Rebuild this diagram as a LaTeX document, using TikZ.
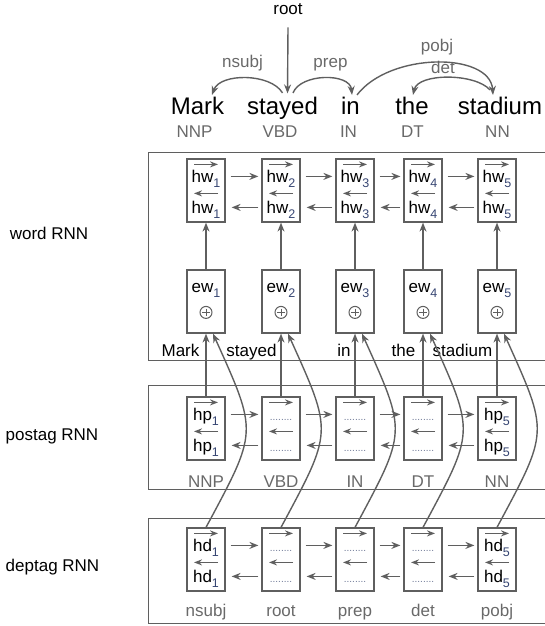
\documentclass[tikz,border=0pt]{standalone}
\usepackage{fontspec}
\setmainfont{Liberation Sans}
\usepackage{xcolor}
\usetikzlibrary{arrows.meta, calc}
\definecolor{linegray}{RGB}{95,95,95}
\definecolor{taggray}{RGB}{105,105,105}
\definecolor{dotblue}{RGB}{110,120,150}
\definecolor{subblue}{RGB}{55,70,115}
\tikzset{
  cell/.style  ={rectangle, draw=linegray, line width=1.2pt, fill=white,
                 minimum width=38pt, minimum height=63pt, inner sep=0pt},
  panel/.style ={rectangle, draw=linegray, line width=1.3pt, anchor=north west, inner sep=0pt},
  txt/.style   ={font=\fontsize{17}{20}\selectfont, inner sep=0pt, anchor=base},
  wordtxt/.style={font=\fontsize{24}{28}\selectfont, inner sep=0pt, anchor=base},
  tagtxt/.style={txt, text=taggray},
  ar/.style    ={-{Stealth[length=9pt,width=7pt]}, draw=linegray, line width=1.4pt},
  vec/.style   ={ar, -{Stealth[length=8pt,width=6pt]}},
  oplus/.style ={circle, draw=linegray, line width=1pt, minimum size=12pt, inner sep=0pt,
                 path picture={\draw[linegray, line width=1pt]
                   ($(path picture bounding box.center)+(0,-3.8)$) -- ($(path picture bounding box.center)+(0,3.8)$)
                   ($(path picture bounding box.center)+(-3.8,0)$) -- ($(path picture bounding box.center)+(3.8,0)$);}},
}
\newcommand{\rowdots}{{\fontsize{10}{12}\selectfont\color{dotblue}........}}
\newcommand{\idx}[1]{\raisebox{-5pt}{\fontsize{12.5}{14}\selectfont\color{subblue}#1}}
% one bidirectional cell: name, x, y, upper text, lower text
\newcommand{\rnncell}[5]{%
  \node[cell] (#1) at (#2,#3) {};
  \draw[vec] ($(#1.north)+(-12,6)$) -- ($(#1.north)+(12,6)$);
  \node[txt] (#1u) at ($(#1.north)+(0,24)$) {#4};
  \draw[vec] ($(#1.north)+(12,35)$) -- ($(#1.north)+(-12,35)$);
  \node[txt] (#1l) at ($(#1.north)+(0,55)$) {#5};
}

\begin{document}
\begin{tikzpicture}[x=1pt, y=-1pt]
\useasboundingbox (0,0) rectangle (545,626);

% dependency parse on top
\node[txt] (root) at (288,15) {root};
\node[wordtxt] (w1) at (197.5,114) {Mark};
\node[wordtxt] (w2) at (282.5,114) {stayed};
\node[wordtxt] (w3) at (350.5,114) {in};
\node[wordtxt] (w4) at (412,114) {the};
\node[wordtxt] (w5) at (500,114) {stadium};
\node[tagtxt] (t1) at (194.5,137) {NNP};
\node[tagtxt] (t2) at (280,137) {VBD};
\node[tagtxt] (t3) at (348.5,137) {IN};
\node[tagtxt] (t4) at (412.5,137) {DT};
\node[tagtxt] (t5) at (497.5,137) {NN};
\node[tagtxt] (lnsubj) at (242.5,67) {nsubj};
\node[tagtxt] (lprep) at (330.5,67) {prep};
\node[tagtxt] (lpobj) at (437,52) {pobj};
\node[tagtxt] (ldet) at (443,74) {det};

\draw[ar] ($(root.south)+(0,12)$) -- ($(w2.north)+(5,-3)$);
\draw[ar] ($(w2.north)+(0,-3.5)$) .. controls +(-12,-20) and +(8,-22) .. ($(w1.north)+(14.5,-1.5)$);
\draw[ar] ($(w2.north)+(10.5,-3.5)$) .. controls +(8,-20) and +(-2,-22) .. ($(w3.north)+(1.5,-1.5)$);
\draw[ar] ($(w3.north)+(6.5,-1.5)$) .. controls +(33,-43) and +(-3,-43) .. ($(w5.north)+(-7,-1.5)$);
\draw[ar] ($(w5.north)+(-10,-6.5)$) .. controls +(-15,-17) and +(5,-22) .. ($(w4.north)+(1,-1.5)$);

% panels
\node[panel, minimum width=452pt, minimum height=208pt] (wordpanel) at (148,152) {};
\node[panel, minimum width=452pt, minimum height=104pt] (pospanel) at (148,385) {};
\node[panel, minimum width=452pt, minimum height=105pt] (deppanel) at (148,518) {};
\node[txt] (lword) at (49,239) {word RNN};
\node[txt] (lpos) at (52,440) {postag RNN};
\node[txt] (ldep) at (52.5,571) {deptag RNN};

% words and tags inside panels
\node[txt] (wt1) at (180.5,356) {Mark};
\node[txt] (wt2) at (251.5,356) {stayed};
\node[txt] (wt3) at (344,356) {in};
\node[txt] (wt4) at (403.5,356) {the};
\node[txt] (wt5) at (462.5,356) {stadium};
\foreach \i/\x/\p/\d in {1/206/NNP/nsubj, 2/281/VBD/root, 3/355/IN/prep, 4/423/DT/det, 5/497/NN/pobj} {
  \node[tagtxt] (pt\i) at (\x,487) {\p};
  \node[tagtxt] (dt\i) at (\x,616) {\d};
}

% cells
\foreach \i/\x in {1/206, 2/281, 3/355, 4/423, 5/497} {
  \rnncell{hw\i}{\x}{190.5}{hw\idx{\i}}{hw\idx{\i}}
  \node[cell] (ew\i) at (\x,301.5) {};
  \node[txt] (ewt\i) at ($(ew\i.north)+(0,23)$) {ew\idx{\i}};
  \node[oplus] (op\i) at ($(ew\i.north)+(0,43)$) {};
}
\foreach \i/\x/\u in {1/206/hp\idx{1}, 2/281/\rowdots, 3/355/\rowdots, 4/423/\rowdots, 5/497/hp\idx{5}} {
  \rnncell{hp\i}{\x}{428.5}{\u}{\u}
}
\foreach \i/\x/\u in {1/206/hd\idx{1}, 2/281/\rowdots, 3/355/\rowdots, 4/423/\rowdots, 5/497/hd\idx{5}} {
  \rnncell{hd\i}{\x}{559.5}{\u}{\u}
}

% recurrent links
\foreach \r in {hw, hp, hd} {
  \foreach \i/\j in {1/2, 2/3, 3/4, 4/5} {
    \draw[ar] ($(\r\i.north east)+(5,18)$) -- ($(\r\j.north west)+(-3,18)$);
    \draw[ar] ($(\r\j.north west)+(-3,49)$) -- ($(\r\i.north east)+(6,49)$);
  }
}

% inputs to the word RNN
\foreach \i in {1,...,5} {
  \draw[ar] (ew\i) -- (hw\i);
  \draw[ar] (hp\i.north) -- (ew\i.south);
  \draw[ar] (hd\i.north) .. controls +(52,-97) and +(45,100) .. ($(ew\i.south)+(7,0)$);
}
\end{tikzpicture}
\end{document}
